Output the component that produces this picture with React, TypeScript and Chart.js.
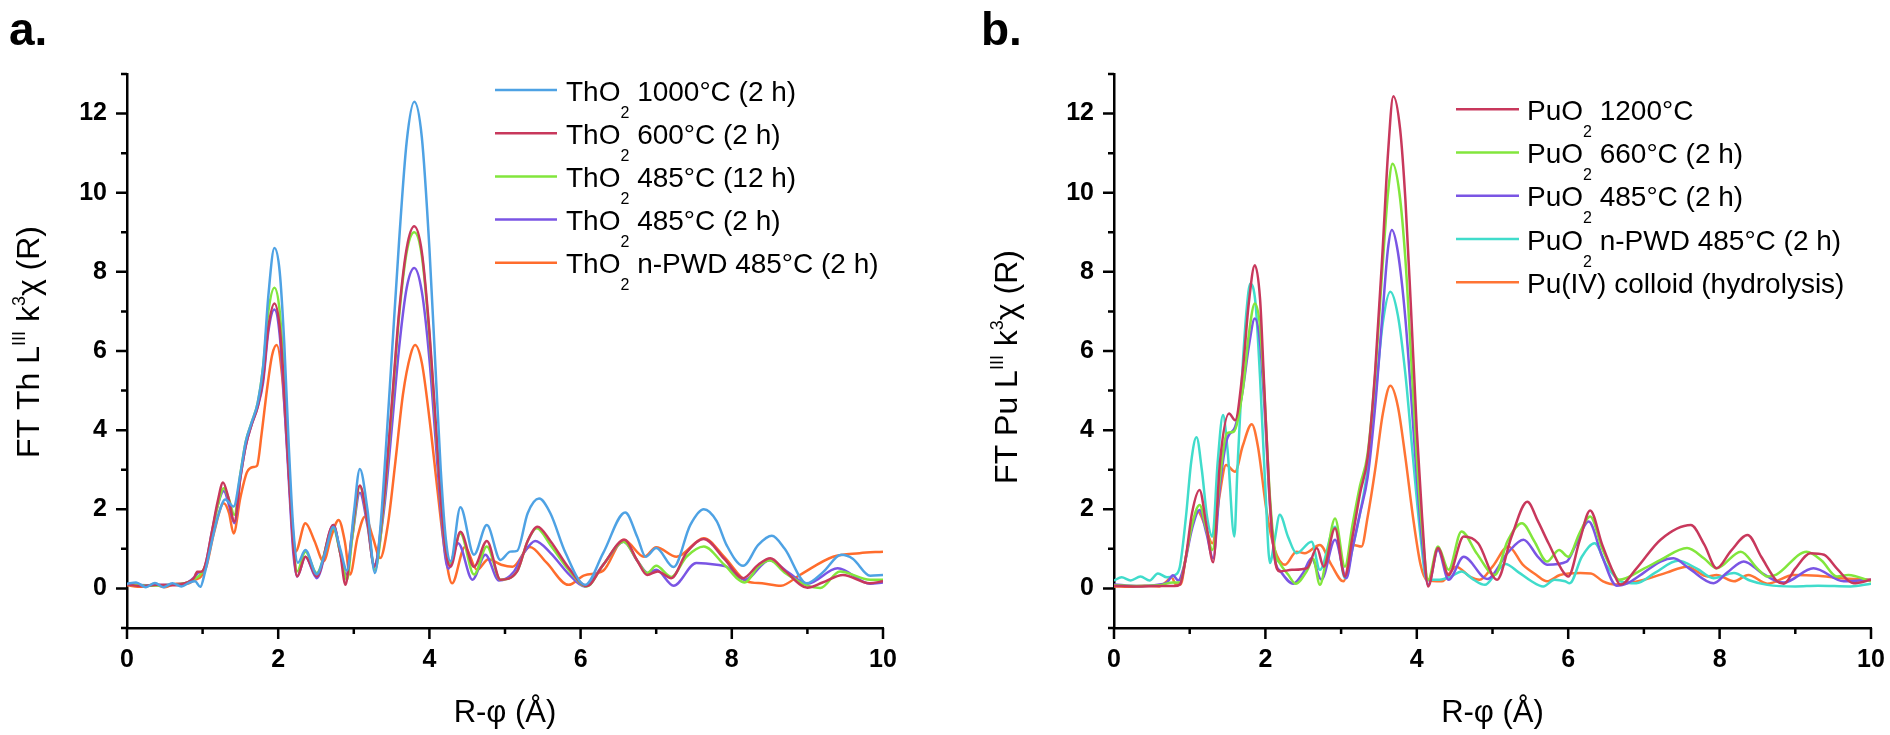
import React, { useEffect, useRef } from 'react';
import { Chart, registerables } from 'chart.js';
Chart.register(...registerables);

const FONT = '"Liberation Sans", Arial, sans-serif';

// ---------- tick labels ----------
const X_MIN = 0, X_MAX = 10, Y_MIN = -1, Y_MAX = 13;
const X_TICK_LABELS = [0, 2, 4, 6, 8, 10];
const Y_TICK_LABELS = [0, 2, 4, 6, 8, 10, 12];

// ---------- panel a : ThO2 (R in Å, |FT|) ----------
const thO2_1000: number[][] = [[0,0.12],[0.12,0.15],[0.25,0.03],[0.37,0.14],[0.48,0.03],[0.6,0.13],[0.72,0.05],[0.83,0.15],[0.9,0.18],[0.97,0.04],[1.03,0.4],[1.1,1.0],[1.2,1.8],[1.3,2.25],[1.41,2.07],[1.5,2.9],[1.57,3.7],[1.65,4.2],[1.73,4.7],[1.8,5.6],[1.87,7.4],[1.95,8.6],[2.02,8.0],[2.08,6.2],[2.14,3.6],[2.2,1.5],[2.26,0.65],[2.36,0.97],[2.51,0.36],[2.62,0.9],[2.73,1.55],[2.82,1.0],[2.91,0.45],[3.0,1.9],[3.08,3.02],[3.18,2.0],[3.28,0.39],[3.35,1.5],[3.42,3.4],[3.5,5.8],[3.6,8.8],[3.7,11.3],[3.8,12.3],[3.9,11.4],[4.0,8.6],[4.08,5.6],[4.15,3.0],[4.22,1.2],[4.28,0.68],[4.41,2.05],[4.59,0.85],[4.76,1.6],[4.94,0.72],[5.07,0.93],[5.16,0.95],[5.3,1.9],[5.45,2.27],[5.6,1.9],[5.8,0.9],[6.06,0.09],[6.3,0.9],[6.59,1.92],[6.75,1.3],[6.86,0.8],[7.0,1.02],[7.23,0.54],[7.45,1.6],[7.63,2.0],[7.8,1.7],[7.93,1.1],[8.15,0.57],[8.35,1.1],[8.53,1.33],[8.7,1.0],[8.99,0.13],[9.2,0.4],[9.45,0.85],[9.6,0.75],[9.83,0.32],[10,0.34]];
const thO2_600: number[][] = [[0,0.1],[0.2,0.06],[0.4,0.09],[0.6,0.08],[0.8,0.15],[0.88,0.25],[0.93,0.42],[0.99,0.43],[1.05,0.7],[1.12,1.4],[1.2,2.2],[1.27,2.68],[1.34,2.3],[1.42,1.69],[1.5,2.8],[1.57,3.6],[1.65,4.15],[1.73,4.6],[1.8,5.3],[1.87,6.6],[1.95,7.2],[2.02,6.6],[2.08,5.0],[2.14,2.9],[2.2,1.1],[2.25,0.3],[2.36,0.8],[2.51,0.3],[2.73,1.6],[2.82,0.9],[2.89,0.09],[2.97,1.3],[3.08,2.6],[3.18,1.7],[3.27,0.55],[3.4,2.3],[3.5,4.6],[3.6,7.0],[3.7,8.6],[3.8,9.15],[3.9,8.5],[4.0,6.5],[4.08,4.3],[4.15,2.3],[4.22,0.9],[4.28,0.55],[4.41,1.43],[4.59,0.55],[4.76,1.2],[4.94,0.22],[5.16,0.43],[5.3,1.2],[5.43,1.56],[5.6,1.2],[5.85,0.5],[6.08,0.06],[6.3,0.6],[6.58,1.23],[6.75,0.7],[6.88,0.34],[7.02,0.43],[7.2,0.26],[7.4,0.9],[7.63,1.25],[7.9,0.75],[8.15,0.26],[8.35,0.6],[8.51,0.76],[8.7,0.45],[9.0,0.02],[9.2,0.15],[9.47,0.34],[9.82,0.13],[10,0.18]];
const thO2_485_12h: number[][] = [[0,0.1],[0.3,0.07],[0.6,0.09],[0.8,0.15],[0.9,0.25],[0.97,0.35],[1.05,0.65],[1.12,1.35],[1.2,2.1],[1.28,2.53],[1.35,2.25],[1.42,1.86],[1.5,2.9],[1.57,3.7],[1.65,4.2],[1.73,4.7],[1.8,5.6],[1.87,7.0],[1.95,7.6],[2.02,7.0],[2.08,5.3],[2.14,3.1],[2.2,1.2],[2.25,0.43],[2.36,0.93],[2.51,0.39],[2.73,1.52],[2.82,0.9],[2.91,0.22],[2.98,1.3],[3.08,2.58],[3.18,1.7],[3.28,0.47],[3.4,2.2],[3.5,4.5],[3.6,6.9],[3.7,8.5],[3.8,9.0],[3.9,8.4],[4.0,6.4],[4.08,4.2],[4.15,2.3],[4.22,0.9],[4.27,0.64],[4.41,1.39],[4.59,0.35],[4.76,1.06],[4.94,0.22],[5.16,0.43],[5.3,1.2],[5.42,1.52],[5.6,1.1],[5.85,0.45],[6.08,0.05],[6.3,0.6],[6.57,1.18],[6.75,0.7],[6.88,0.39],[7.0,0.57],[7.2,0.29],[7.4,0.8],[7.63,1.06],[7.9,0.6],[8.17,0.15],[8.35,0.55],[8.5,0.71],[8.7,0.4],[9.0,0.07],[9.17,0.01],[9.43,0.43],[9.83,0.22],[10,0.22]];
const thO2_485_2h: number[][] = [[0,0.1],[0.3,0.08],[0.6,0.1],[0.8,0.15],[0.9,0.3],[0.95,0.4],[1.0,0.4],[1.05,0.7],[1.12,1.4],[1.2,2.1],[1.28,2.46],[1.35,2.1],[1.42,1.65],[1.5,2.8],[1.57,3.6],[1.65,4.15],[1.73,4.6],[1.8,5.2],[1.87,6.5],[1.95,7.05],[2.02,6.4],[2.09,4.4],[2.15,2.4],[2.2,0.9],[2.25,0.3],[2.36,0.8],[2.51,0.26],[2.73,1.6],[2.82,0.9],[2.9,0.35],[2.98,1.3],[3.08,2.42],[3.18,1.6],[3.27,0.6],[3.4,2.0],[3.5,4.0],[3.6,6.1],[3.7,7.6],[3.8,8.1],[3.9,7.5],[4.0,5.8],[4.08,3.8],[4.15,2.0],[4.21,0.8],[4.25,0.5],[4.38,1.14],[4.57,0.22],[4.74,0.85],[4.92,0.2],[5.12,0.43],[5.25,0.9],[5.4,1.2],[5.6,0.9],[5.85,0.35],[6.05,0.05],[6.3,0.6],[6.57,1.18],[6.75,0.7],[6.89,0.39],[7.0,0.47],[7.23,0.07],[7.53,0.64],[7.8,0.6],[7.93,0.55],[8.17,0.22],[8.5,0.71],[8.75,0.4],[9.0,0.12],[9.4,0.51],[9.83,0.12],[10,0.15]];
const thO2_nPWD: number[][] = [[0,0.08],[0.2,0.04],[0.35,0.1],[0.5,0.03],[0.65,0.12],[0.8,0.12],[0.9,0.22],[0.98,0.3],[1.05,0.55],[1.15,1.4],[1.28,2.15],[1.35,1.9],[1.41,1.39],[1.5,2.3],[1.59,2.95],[1.68,3.07],[1.72,3.1],[1.78,3.9],[1.85,5.0],[1.92,5.9],[1.98,6.15],[2.05,5.4],[2.12,3.5],[2.18,1.8],[2.23,0.93],[2.36,1.65],[2.48,1.2],[2.6,0.68],[2.7,1.3],[2.8,1.73],[2.88,1.2],[2.95,0.35],[3.05,1.3],[3.15,1.82],[3.25,1.3],[3.35,0.77],[3.45,1.6],[3.55,3.2],[3.65,4.9],[3.75,5.9],[3.81,6.15],[3.9,5.7],[4.0,4.3],[4.1,2.6],[4.2,1.0],[4.3,0.13],[4.47,1.05],[4.63,0.47],[4.78,0.74],[4.95,0.6],[5.1,0.55],[5.33,1.05],[5.55,0.65],[5.84,0.09],[6.05,0.33],[6.3,0.45],[6.57,1.23],[6.84,0.8],[7.0,1.04],[7.27,0.8],[7.63,1.27],[7.9,0.8],[8.2,0.18],[8.4,0.13],[8.65,0.07],[8.9,0.34],[9.34,0.8],[9.69,0.89],[10,0.93]];

// ---------- panel b : PuO2 ----------
const puO2_1200: number[][] = [[0,0.07],[0.3,0.05],[0.6,0.06],[0.8,0.06],[0.87,0.1],[0.95,0.8],[1.03,1.9],[1.13,2.49],[1.22,1.6],[1.31,0.66],[1.4,3.2],[1.52,4.42],[1.6,4.25],[1.7,5.5],[1.78,7.2],[1.86,8.17],[1.93,7.3],[1.98,5.3],[2.05,2.5],[2.12,0.8],[2.19,0.43],[2.35,0.47],[2.55,0.51],[2.68,1.02],[2.77,0.55],[2.92,1.52],[3.05,0.3],[3.15,1.3],[3.25,2.4],[3.35,3.3],[3.45,5.5],[3.55,8.6],[3.62,11.0],[3.69,12.44],[3.78,11.6],[3.85,9.8],[3.92,7.2],[4.0,4.0],[4.07,1.8],[4.15,0.05],[4.28,1.02],[4.42,0.34],[4.62,1.31],[4.81,1.14],[5.06,0.22],[5.25,1.3],[5.46,2.19],[5.6,1.7],[5.74,1.14],[5.94,0.4],[6.0,0.3],[6.15,1.2],[6.29,1.97],[6.45,1.1],[6.6,0.39],[6.69,0.09],[6.9,0.5],[7.22,1.23],[7.62,1.6],[7.8,1.1],[7.96,0.51],[8.15,0.95],[8.37,1.35],[8.55,0.8],[8.76,0.18],[8.85,0.12],[9.0,0.5],[9.2,0.89],[9.38,0.85],[9.55,0.5],[9.77,0.13],[10,0.22]];
const puO2_660: number[][] = [[0,0.08],[0.3,0.06],[0.6,0.08],[0.78,0.15],[0.87,0.15],[0.95,0.8],[1.03,1.6],[1.13,2.11],[1.22,1.5],[1.3,0.97],[1.4,2.8],[1.49,3.92],[1.58,3.96],[1.7,5.0],[1.78,6.4],[1.86,7.2],[1.93,6.6],[1.99,4.8],[2.06,2.3],[2.13,0.9],[2.19,0.64],[2.3,0.35],[2.4,0.12],[2.55,0.45],[2.63,0.75],[2.72,0.09],[2.8,0.7],[2.92,1.77],[3.05,0.55],[3.15,1.6],[3.25,2.6],[3.35,3.4],[3.45,5.4],[3.55,8.2],[3.62,10.0],[3.68,10.73],[3.77,10.0],[3.85,8.3],[3.92,6.0],[4.0,3.3],[4.07,1.5],[4.15,0.22],[4.28,1.06],[4.42,0.47],[4.59,1.44],[4.79,0.89],[5.03,0.34],[5.2,1.2],[5.39,1.65],[5.55,1.2],[5.72,0.68],[5.88,0.97],[6.0,0.8],[6.15,1.4],[6.29,1.82],[6.45,1.0],[6.6,0.39],[6.67,0.22],[7.0,0.5],[7.22,0.72],[7.57,1.02],[7.8,0.75],[7.96,0.51],[8.28,0.93],[8.5,0.5],[8.63,0.3],[8.75,0.35],[9.15,0.93],[9.35,0.7],[9.55,0.3],[9.7,0.34],[10,0.18]];
const puO2_485: number[][] = [[0,0.1],[0.3,0.06],[0.6,0.1],[0.7,0.15],[0.78,0.33],[0.85,0.2],[0.93,0.6],[1.03,1.5],[1.13,1.98],[1.22,1.4],[1.31,0.76],[1.4,2.6],[1.49,3.75],[1.6,4.08],[1.7,5.0],[1.78,6.1],[1.86,6.82],[1.93,6.2],[1.99,4.5],[2.06,2.1],[2.13,0.7],[2.2,0.43],[2.37,0.12],[2.5,0.4],[2.61,0.76],[2.74,0.22],[2.92,1.23],[3.07,0.26],[3.15,1.0],[3.25,1.9],[3.35,2.8],[3.45,4.6],[3.55,7.0],[3.62,8.6],[3.67,9.06],[3.75,8.5],[3.85,6.8],[3.92,5.0],[4.0,2.8],[4.08,1.0],[4.15,0.09],[4.28,0.97],[4.42,0.22],[4.62,0.8],[4.93,0.24],[5.2,0.9],[5.41,1.23],[5.6,0.8],[5.72,0.6],[5.98,0.68],[6.1,1.1],[6.27,1.69],[6.45,0.8],[6.64,0.07],[6.8,0.15],[7.0,0.4],[7.22,0.68],[7.39,0.76],[7.6,0.5],[7.92,0.13],[8.1,0.4],[8.32,0.68],[8.55,0.4],[8.76,0.18],[8.85,0.15],[9.24,0.51],[9.64,0.18],[10,0.22]];
const puO2_nPWD: number[][] = [[0,0.2],[0.1,0.28],[0.22,0.2],[0.35,0.3],[0.47,0.2],[0.58,0.38],[0.7,0.28],[0.8,0.33],[0.87,0.55],[0.95,1.8],[1.02,3.2],[1.09,3.82],[1.16,3.0],[1.23,1.8],[1.3,1.31],[1.37,3.2],[1.44,4.38],[1.5,3.5],[1.59,1.31],[1.63,3.0],[1.69,5.3],[1.75,7.0],[1.8,7.7],[1.87,7.2],[1.93,5.3],[2.0,2.5],[2.06,0.64],[2.12,1.2],[2.19,1.86],[2.3,1.3],[2.41,0.89],[2.61,1.18],[2.72,0.47],[2.92,1.56],[3.05,0.26],[3.15,1.0],[3.25,1.9],[3.35,3.0],[3.45,4.8],[3.55,6.7],[3.65,7.5],[3.75,6.9],[3.85,5.4],[3.95,3.3],[4.05,1.3],[4.13,0.22],[4.3,0.22],[4.45,0.3],[4.59,0.43],[4.75,0.22],[4.9,0.09],[5.05,0.4],[5.17,0.62],[5.35,0.4],[5.5,0.2],[5.67,0.05],[5.82,0.22],[5.96,0.18],[6.02,0.13],[6.18,0.8],[6.35,1.14],[6.5,0.6],[6.69,0.18],[6.9,0.13],[7.15,0.4],[7.45,0.7],[7.7,0.5],[7.92,0.26],[8.19,0.39],[8.4,0.2],[8.63,0.09],[9.0,0.05],[9.3,0.07],[9.73,0.05],[10,0.12]];
const puIV_colloid: number[][] = [[0,0.05],[0.2,0.04],[0.4,0.07],[0.6,0.05],[0.68,0.15],[0.76,0.28],[0.82,0.1],[0.88,0.1],[0.95,0.8],[1.03,1.6],[1.11,1.94],[1.2,1.6],[1.3,1.14],[1.39,2.3],[1.48,3.12],[1.6,2.95],[1.7,3.6],[1.82,4.15],[1.9,3.6],[2.02,1.9],[2.12,1.0],[2.26,0.6],[2.41,0.93],[2.52,0.89],[2.72,1.1],[2.87,0.6],[3.03,0.18],[3.16,1.1],[3.27,1.06],[3.35,1.8],[3.45,3.0],[3.55,4.4],[3.65,5.12],[3.75,4.6],[3.85,3.3],[3.95,1.8],[4.05,0.6],[4.13,0.22],[4.33,0.18],[4.52,0.55],[4.7,0.3],[4.83,0.22],[5.0,0.55],[5.21,1.06],[5.4,0.6],[5.58,0.34],[5.72,0.18],[5.89,0.34],[6.16,0.39],[6.3,0.38],[6.46,0.18],[6.62,0.1],[7.0,0.22],[7.3,0.4],[7.57,0.55],[7.84,0.3],[7.96,0.34],[8.19,0.18],[8.38,0.34],[8.63,0.12],[8.98,0.34],[9.3,0.32],[9.6,0.26],[10,0.22]];

const LABELS_A = ['ThO₂ 1000°C (2 h)', 'ThO₂ 600°C (2 h)', 'ThO₂ 485°C (12 h)', 'ThO₂ 485°C (2 h)', 'ThO₂ n-PWD 485°C (2 h)'];
const LABELS_B = ['PuO₂ 1200°C', 'PuO₂ 660°C (2 h)', 'PuO₂ 485°C (2 h)', 'PuO₂ n-PWD 485°C (2 h)', 'Pu(IV) colloid (hydrolysis)'];
const COLORS_A = ['#4ea2e4', '#c8385c', '#82e63c', '#7a55e4', '#ff6c2c'];
const COLORS_B = ['#c8385c', '#82e63c', '#7a55e4', '#40dccb', '#ff7434'];

type Seg = { t: string; s?: 'sup' | 'sub' };

interface Panel {
  letter: string;
  letterX: number;
  series: number[][][];
  labels: string[];
  colors: string[];
  yTitle: Seg[];
  yTitleX: number;
  yTitleCY: number;
  axisLeft: number;
  padRight: number;
  legend: { x0: number; x1: number; tx: number; y0: number; dy: number };
}

const PANEL_A: Panel = {
  letter: 'a.', letterX: 9,
  series: [thO2_1000, thO2_600, thO2_485_12h, thO2_485_2h, thO2_nPWD],
  labels: LABELS_A, colors: COLORS_A,
  yTitle: [{ t: 'FT Th L' }, { t: 'III', s: 'sup' }, { t: ' k' }, { t: '3', s: 'sup' }, { t: 'χ (R)' }],
  yTitleX: 39, yTitleCY: 342,
  axisLeft: 127, padRight: 62,
  legend: { x0: 495, x1: 557, tx: 566, y0: 90, dy: 43.2 },
};
const PANEL_B: Panel = {
  letter: 'b.', letterX: 36,
  series: [puO2_1200, puO2_660, puO2_485, puO2_nPWD, puIV_colloid],
  labels: LABELS_B, colors: COLORS_B,
  yTitle: [{ t: 'FT Pu L' }, { t: 'III', s: 'sup' }, { t: ' k' }, { t: '3', s: 'sup' }, { t: 'χ (R)' }],
  yTitleX: 72, yTitleCY: 367,
  axisLeft: 169, padRight: 19,
  legend: { x0: 511, x1: 574, tx: 582, y0: 109.3, dy: 43.25 },
};

function drawRich(ctx: CanvasRenderingContext2D, segs: Seg[], x: number, y: number, size: number, align: 'left' | 'center', subSize: number, subDrop: number, supSize: number, supRise: number) {
  const fontFor = (s?: string) => `${s === 'sub' ? subSize : s === 'sup' ? supSize : size}px ${FONT}`;
  const widths = segs.map((sg) => { ctx.font = fontFor(sg.s); return ctx.measureText(sg.t).width; });
  const total = widths.reduce((a, b) => a + b, 0);
  let cx = align === 'center' ? x - total / 2 : x;
  ctx.textAlign = 'left';
  ctx.textBaseline = 'alphabetic';
  segs.forEach((sg, i) => {
    ctx.font = fontFor(sg.s);
    const dy = sg.s === 'sub' ? subDrop : sg.s === 'sup' ? -supRise : 0;
    ctx.fillText(sg.t, cx, y + dy);
    cx += widths[i];
  });
}

function labelSegs(label: string): Seg[] {
  const out: Seg[] = [];
  const parts = label.split('₂');
  parts.forEach((p, i) => {
    if (p) out.push({ t: p });
    if (i < parts.length - 1) out.push({ t: '2', s: 'sub' });
  });
  return out;
}

function makeDecor(panel: Panel) {
  return {
    id: 'decor',
    afterDraw(chart: any) {
      const ctx: CanvasRenderingContext2D = chart.ctx;
      const xs = chart.scales.x;
      const ys = chart.scales.y;
      const area = chart.chartArea;
      ctx.save();
      // tick marks
      ctx.strokeStyle = '#000';
      ctx.lineWidth = 2.5;
      ctx.beginPath();
      for (let v = Y_MIN; v <= Y_MAX; v++) {
        const py = ys.getPixelForValue(v);
        const len = v % 2 === 0 ? 11 : 6;
        ctx.moveTo(area.left - len, py);
        ctx.lineTo(area.left, py);
      }
      for (let v = X_MIN; v <= X_MAX; v++) {
        const px = xs.getPixelForValue(v);
        const len = v % 2 === 0 ? 11 : 6;
        ctx.moveTo(px, area.bottom);
        ctx.lineTo(px, area.bottom + len);
      }
      ctx.stroke();

      ctx.fillStyle = '#000';
      // panel letter
      ctx.font = `bold 46px ${FONT}`;
      ctx.textAlign = 'left';
      ctx.textBaseline = 'alphabetic';
      ctx.fillText(panel.letter, panel.letterX, 45);

      // x title
      ctx.font = `31px ${FONT}`;
      ctx.textAlign = 'center';
      ctx.fillText('R-φ (Å)', (area.left + area.right) / 2, 722);

      // y title (rotated)
      ctx.save();
      ctx.translate(panel.yTitleX, panel.yTitleCY);
      ctx.rotate(-Math.PI / 2);
      drawRich(ctx, panel.yTitle, 0, 0, 32, 'center', 18, 8, 18, 14);
      ctx.restore();

      // legend
      const lg = panel.legend;
      panel.labels.forEach((lab, i) => {
        const ly = lg.y0 + i * lg.dy;
        ctx.strokeStyle = panel.colors[i];
        ctx.lineWidth = 2.5;
        ctx.beginPath();
        ctx.moveTo(lg.x0, ly);
        ctx.lineTo(lg.x1, ly);
        ctx.stroke();
        ctx.fillStyle = '#000';
        drawRich(ctx, labelSegs(lab), lg.tx, ly + 10.5, 28, 'left', 16, 17, 16, 10);
      });
      ctx.restore();
    },
  };
}

function makeConfig(panel: Panel): any {
  const tickFont = { family: FONT, size: 25, weight: 700 };
  return {
    type: 'line',
    data: {
      datasets: panel.series.map((s, i) => ({
        label: panel.labels[i],
        data: s.map(([x, y]) => ({ x, y })),
        borderColor: panel.colors[i],
        backgroundColor: panel.colors[i],
        borderWidth: 2.5,
        pointRadius: 0,
        fill: false,
        cubicInterpolationMode: 'monotone',
      })),
    },
    options: {
      responsive: false,
      animation: false,
      devicePixelRatio: 1,
      layout: { padding: { left: 0, right: panel.padRight, top: 74, bottom: 47 } },
      scales: {
        x: {
          type: 'linear',
          min: X_MIN,
          max: X_MAX,
          grid: { display: false, drawTicks: false },
          border: { display: true, color: '#000', width: 2.5 },
          ticks: {
            stepSize: 1,
            autoSkip: false,
            maxRotation: 0,
            padding: 17,
            color: '#000',
            font: tickFont,
            callback: (v: number) => (X_TICK_LABELS.includes(v) ? String(v) : ''),
          },
          afterFit: (s: any) => { s.height = 60; s.paddingLeft = 0; s.paddingRight = 0; },
        },
        y: {
          type: 'linear',
          min: Y_MIN,
          max: Y_MAX,
          grid: { display: false, drawTicks: false },
          border: { display: true, color: '#000', width: 2.5 },
          ticks: {
            stepSize: 1,
            autoSkip: false,
            padding: 20,
            color: '#000',
            font: tickFont,
            callback: (v: number) => (Y_TICK_LABELS.includes(v) ? String(v) : ''),
          },
          afterFit: (s: any) => { s.width = panel.axisLeft; s.paddingTop = 0; s.paddingBottom = 0; },
        },
      },
      plugins: { legend: { display: false }, tooltip: { enabled: false }, title: { display: false } },
    },
    plugins: [makeDecor(panel)],
  };
}

export default function App() {
  const refA = useRef<HTMLCanvasElement>(null);
  const refB = useRef<HTMLCanvasElement>(null);
  useEffect(() => {
    document.body.style.margin = '0';
    const a = new Chart(refA.current as HTMLCanvasElement, makeConfig(PANEL_A));
    const b = new Chart(refB.current as HTMLCanvasElement, makeConfig(PANEL_B));
    return () => { a.destroy(); b.destroy(); };
  }, []);
  return (
    <div style={{ position: 'relative', width: 1890, height: 735, background: '#fff', overflow: 'hidden' }}>
      <canvas ref={refA} width={945} height={735} style={{ position: 'absolute', left: 0, top: 0, width: 945, height: 735 }} />
      <canvas ref={refB} width={945} height={735} style={{ position: 'absolute', left: 945, top: 0, width: 945, height: 735 }} />
    </div>
  );
}
